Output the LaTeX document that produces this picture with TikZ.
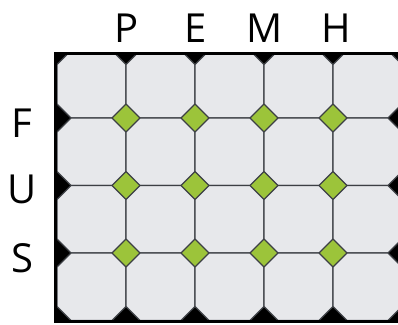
\documentclass[tikz,border=0pt]{standalone}
\usepackage{fontspec}
\setsansfont{Open Sans}
\definecolor{tilegray}{HTML}{E7E8EB}
\definecolor{gridline}{HTML}{3C3F44}
\definecolor{knotgreen}{HTML}{9CC43A}
\begin{document}
\begin{tikzpicture}[x=1pt,y=-1pt,
    tile/.style={fill=tilegray, draw=gridline, line width=1.1pt, line join=miter},
    knot/.style={fill=knotgreen},
    lbl/.style={font=\sffamily\fontsize{40}{40}\selectfont, inner sep=0pt, anchor=base}]
    \useasboundingbox (0,0) rectangle (398,324);
    \fill[white] (0,0) rectangle (398,324);
    % Frame and black ground
    \fill[black] (54,52) rectangle (405,323);
    \begin{scope}
      \clip (57,55) rectangle (405,319);
      % Green knots at the inner crossings
      \foreach \i in {0,...,3}
        \foreach \j in {0,...,2} {
          \pgfmathsetmacro{\kx}{126+69*\i}
          \pgfmathsetmacro{\ky}{118+67.5*\j}
          \fill[knot] (\kx-15,\ky) -- (\kx,\ky-15) -- (\kx+15,\ky) -- (\kx,\ky+15) -- cycle;
        }
      % Octagon tiles
      \foreach \i in {0,...,4}
        \foreach \j in {0,...,3} {
          \pgfmathsetmacro{\xa}{57+69*\i}
          \pgfmathsetmacro{\xb}{\xa+69}
          \pgfmathsetmacro{\ya}{50.5+67.5*\j}
          \pgfmathsetmacro{\yb}{\ya+67.5}
          \draw[tile] (\xa+14,\ya) -- (\xb-14,\ya) -- (\xb,\ya+14) -- (\xb,\yb-14)
            -- (\xb-14,\yb) -- (\xa+14,\yb) -- (\xa,\yb-14) -- (\xa,\ya+14) -- cycle;
        }
    \end{scope}
    % Column labels
    \foreach \t/\x in {P/127,E/196,M/265,H/336}
      \node[lbl] (col\t) at (\x,42) {\t};
    % Row labels
    \foreach \t/\y in {F/137,U/203,S/272}
      \node[lbl] (row\t) at (22,\y) {\t};
\end{tikzpicture}
\end{document}
